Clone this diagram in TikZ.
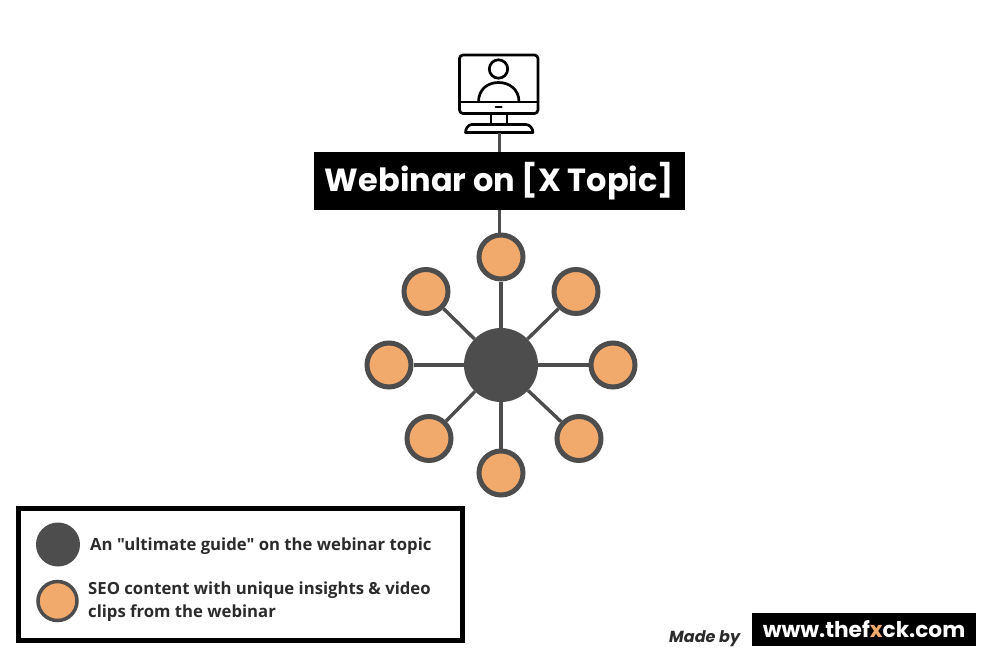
\documentclass[tikz,border=0pt]{standalone}
\usepackage{fontspec}
\setmainfont{Open Sans}
\newfontfamily\legendfont{Open Sans}
\newfontfamily\popfont{Poppins}
\definecolor{hubgray}{HTML}{4D4D4D}
\definecolor{peach}{HTML}{F2A96C}
\definecolor{inkgray}{HTML}{2B2B2B}
\tikzset{
  sat/.style={circle,draw=hubgray,fill=peach,line width=5pt,minimum size=44pt,inner sep=0pt},
  hub/.style={circle,fill=hubgray,minimum size=74pt,inner sep=0pt},
  link/.style={draw=hubgray,line width=3.4pt},
  icon/.style={draw=black,line width=2.7pt,line join=round},
  blackbox/.style={fill=black,text=white,inner sep=0pt},
  legendtext/.style={text=inkgray,font=\legendfont\bfseries\fontsize{16.7}{23}\selectfont,align=left,anchor=west,inner sep=0pt}
}
\begin{document}
\begin{tikzpicture}[x=1pt,y=-1pt]
\useasboundingbox[fill=white] (0,0) rectangle (1000,666);
% title
\node[blackbox,minimum width=371pt,minimum height=58pt] (title) at (499.5,181) {\popfont\bfseries\fontsize{32}{40}\selectfont Webinar on [X Topic]};
% monitor icon
\coordinate (iconbase) at (499.5,133);
\draw[icon,rounded corners=3.5pt] (459.5,55) rectangle (538,113.5);
\draw[icon] (459.5,102) -- (538,102);
\draw[icon] (498.5,69) circle (9.2pt);
\draw[icon] (478.5,102) .. controls (478.5,89) and (488,82.5) .. (498.5,82.5) .. controls (509,82.5) and (519,89) .. (519,102);
\draw[black,line width=2pt,line cap=round] (495.5,107.5) -- (501.5,107.5);
\draw[icon] (491,113.5) -- (491,124.5) (507,113.5) -- (507,124.5);
\draw[icon] (472,124.5) -- (526,124.5) .. controls (530,124.5) and (533,129) .. (533,132.5) -- (465.5,132.5) .. controls (465.5,129) and (468,124.5) .. (472,124.5) -- cycle;
% network
\node[hub] (h) at (501,365) {};
\node[sat] (s1) at (501,257) {};
\node[sat] (s2) at (576,291.5) {};
\node[sat] (s3) at (613,365) {};
\node[sat] (s4) at (579,438.5) {};
\node[sat] (s5) at (501,473) {};
\node[sat] (s6) at (429,438.5) {};
\node[sat] (s7) at (389,365) {};
\node[sat] (s8) at (426,291.5) {};
\foreach \n in {1,...,8} \draw[link] (h) -- (s\n);
\draw[link] (iconbase) -- (title.north -| iconbase);
\draw[link] (title.south -| iconbase) -- (s1.north -| iconbase);
% legend
\node[draw=black,line width=5pt,minimum width=444pt,minimum height=132pt,inner sep=0pt] (legend) at (240.5,574.5) {};
\node[circle,fill=hubgray,minimum size=44pt,inner sep=0pt] (k1) at (58,544.5) {};
\node[circle,draw=hubgray,fill=peach,line width=3.5pt,minimum size=39pt,inner sep=0pt] (k2) at (57.5,601) {};
\node[legendtext] (t1) at (90,546) {An "ultimate guide" on the webinar topic};
\node[legendtext] (t2) at (88,602) {SEO content with unique insights \& video\\clips from the webinar};
% credit
\node[text=inkgray,anchor=base west,inner sep=0pt] (made) at (669,642) {\popfont\bfseries\itshape\fontsize{16}{20}\selectfont Made by};
\node[blackbox,minimum width=224pt,minimum height=33pt] (site) at (864,629.5) {\popfont\bfseries\fontsize{21.7}{26}\selectfont www.thef{\color{peach}x}ck.com};
\end{tikzpicture}
\end{document}
